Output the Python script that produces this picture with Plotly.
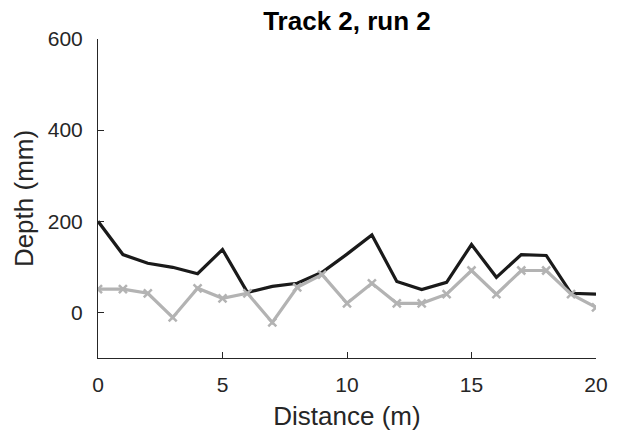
import plotly.graph_objects as go

distance = list(range(21))
depth_black = [200, 127, 108, 99, 85, 138, 44, 57, 64, 88, 128, 170, 68, 50, 66, 149, 77, 127, 125, 42, 40]
depth_gray = [51, 51, 42, -11, 53, 31, 42, -22, 55, 83, 20, 64, 20, 20, 40, 92, 40, 92, 92, 40, 11]

fig = go.Figure()
fig.add_trace(go.Scatter(x=distance, y=depth_black, mode="lines",
                         line=dict(color="#1a1a1a", width=3.2), showlegend=False))
fig.add_trace(go.Scatter(x=distance, y=depth_gray, mode="lines+markers",
                         line=dict(color="#b3b3b3", width=3.2),
                         marker=dict(symbol="x-thin", size=8, color="#b3b3b3",
                                     line=dict(color="#b3b3b3", width=2.5)),
                         showlegend=False))

font = "Liberation Sans, Arial, sans-serif"
fig.update_layout(
    width=619, height=439,
    margin=dict(l=98, r=23, t=39, b=81),
    paper_bgcolor="white", plot_bgcolor="white",
    font=dict(family=font, color="#262626", size=21),
    title=dict(text="<b>Track 2, run 2</b>", x=0.5, xanchor="center", xref="paper",
               y=1 - 21 / 439, yref="container", yanchor="middle",
               font=dict(size=26, color="black", family=font)),
)
fig.update_xaxes(range=[0, 20], tickvals=[0, 5, 10, 15, 20], ticks="inside", ticklen=6,
                 tickcolor="#262626", showline=True, linecolor="#262626", linewidth=1,
                 showgrid=False, zeroline=False, ticklabelstandoff=8,
                 tickfont=dict(size=21),
                 title=dict(text="Distance (m)", font=dict(size=26), standoff=11))
fig.update_yaxes(range=[-100, 600], tickvals=[0, 200, 400, 600], ticks="inside", ticklen=6,
                 tickcolor="#262626", showline=True, linecolor="#262626", linewidth=1,
                 showgrid=False, zeroline=False, ticklabelstandoff=10,
                 tickfont=dict(size=21),
                 title=dict(text="Depth (mm)", font=dict(size=26), standoff=6))

fig.write_html("out.html")
